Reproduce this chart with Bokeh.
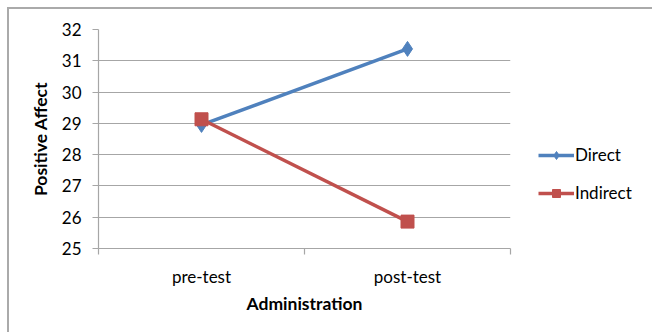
from bokeh.plotting import figure
from bokeh.models import Range1d, FixedTicker, Legend, LegendItem, ColumnDataSource
from bokeh.embed import file_html
from bokeh.resources import INLINE

categories = ["pre-test", "post-test"]
direct = [28.95, 31.38]
indirect = [29.13, 25.86]
y_ticks = [25, 26, 27, 28, 29, 30, 31, 32]

FONT = "Lato"
GRID = "#a6a6a6"

# category centres on a linear scale (Excel-style category axis)
xpos = [i + 0.5 for i in range(len(categories))]
bounds = list(range(len(categories) + 1))

p = figure(frame_width=412, frame_height=219,
           x_range=Range1d(0, len(categories)), y_range=Range1d(25, 32),
           output_backend="svg", toolbar_location=None,
           min_border_left=89, min_border_right=142, min_border_top=20, min_border_bottom=84,
           styles={"border-left": "2px solid #aaaaaa", "border-top": "2px solid #aaaaaa",
                   "margin-left": "7px", "margin-top": "7px"})
p.outline_line_color = None
p.background_fill_color = "white"

p.xgrid.grid_line_color = None
p.ygrid.grid_line_color = GRID
p.ygrid.grid_line_width = 1.2
p.yaxis.ticker = FixedTicker(ticks=y_ticks)
p.yaxis.axis_line_color = GRID
p.yaxis.axis_line_width = 1.2
p.yaxis.major_tick_line_color = GRID
p.yaxis.major_tick_out = 6
p.yaxis.major_tick_in = 0
p.yaxis.minor_tick_line_color = None
p.yaxis.major_label_text_font = FONT
p.yaxis.major_label_text_font_size = "17px"
p.yaxis.major_label_text_color = "black"
p.yaxis.major_label_standoff = 11
p.yaxis.axis_label = "Positive Affect"
p.yaxis.axis_label_text_font = FONT
p.yaxis.axis_label_text_font_size = "17.5px"
p.yaxis.axis_label_text_font_style = "bold"
p.yaxis.axis_label_text_color = "black"
p.yaxis.axis_label_standoff = 8

xa = p.xaxis[0]
xa.ticker = FixedTicker(ticks=xpos, minor_ticks=bounds)
xa.major_label_overrides = {x: c for x, c in zip(xpos, categories)}
xa.axis_line_color = GRID
xa.axis_line_width = 1.2
xa.major_tick_line_color = None
xa.minor_tick_line_color = GRID
xa.minor_tick_line_width = 1.2
xa.minor_tick_out = 6
xa.minor_tick_in = 0
xa.major_label_text_font = FONT
xa.major_label_text_font_size = "17px"
xa.major_label_text_color = "black"
xa.major_label_standoff = 11
xa.axis_label = "Administration"
xa.axis_label_text_font = FONT
xa.axis_label_text_font_size = "17.5px"
xa.axis_label_text_font_style = "bold"
xa.axis_label_text_color = "black"
xa.axis_label_standoff = 3

BLUE = "#4F81BD"
RED = "#C0504D"
src_d = ColumnDataSource(dict(x=xpos, y=direct))
src_i = ColumnDataSource(dict(x=xpos, y=indirect))
ld = p.line("x", "y", source=src_d, line_color=BLUE, line_width=3.5)
md = p.scatter("x", "y", source=src_d, marker="diamond", size=15, fill_color=BLUE, line_color=BLUE)
li = p.line("x", "y", source=src_i, line_color=RED, line_width=3.5)
mi = p.scatter("x", "y", source=src_i, marker="square", size=13, fill_color=RED, line_color=RED)

legend = Legend(items=[LegendItem(label="Direct", renderers=[ld, md]),
                       LegendItem(label="Indirect", renderers=[li, mi])],
                location=(28, 45))
legend.border_line_color = None
legend.background_fill_alpha = 0
legend.label_text_font = FONT
legend.label_text_font_size = "17px"
legend.label_text_color = "black"
legend.glyph_width = 36
legend.glyph_height = 20
legend.label_standoff = 1
legend.spacing = 17
legend.padding = 4
legend.margin = 0
p.add_layout(legend, "right")

open("out.html", "w").write(file_html(p, INLINE))
